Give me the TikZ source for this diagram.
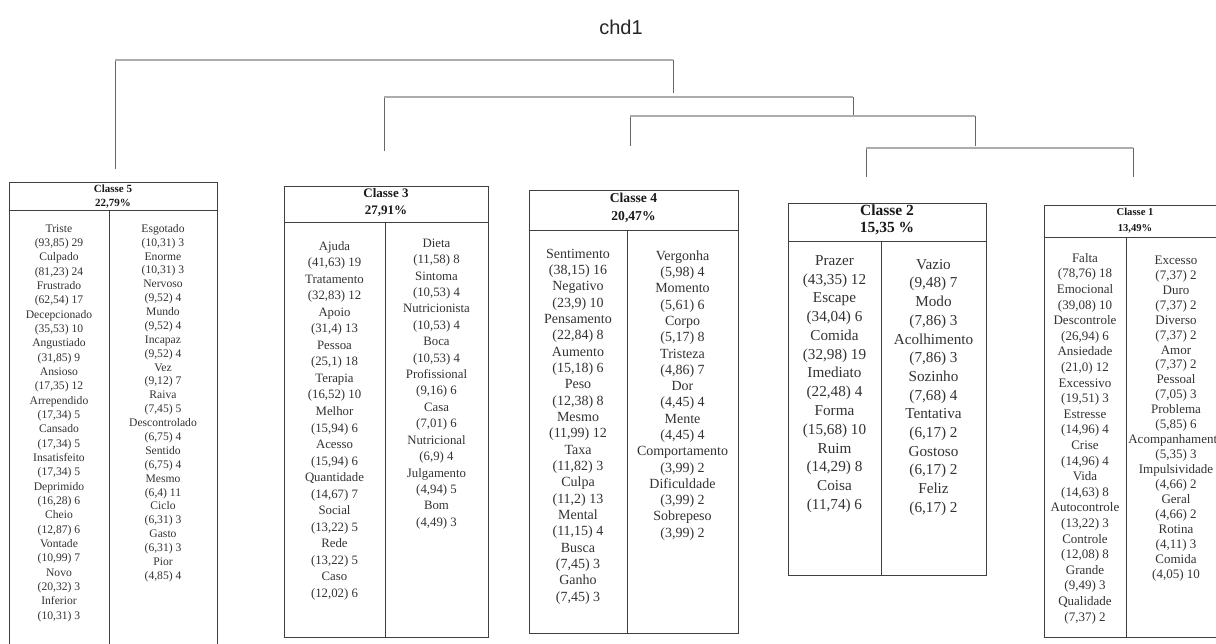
\documentclass[tikz,border=0pt]{standalone}
\usepackage{fontspec}
\setmainfont{Liberation Serif}
\newfontfamily\arialf{Liberation Sans}
\newcommand{\wordcol}[6]{%
  \foreach \w [count=\i from 0] in {#6} {
    \node[#5] (#1-\i) at (#2, {#3+\i*#4}) {\w};
  }%
}
\tikzset{
  wd/.style={inner sep=0pt, text height=.68em, text depth=.22em, text=black!80},
  hd/.style={inner sep=0pt, text height=.68em, text depth=.22em, text=black!90},
  f5/.style={wd, font=\fontsize{11.6}{14}\selectfont},
  f3/.style={wd, font=\fontsize{12.8}{15}\selectfont},
  f4/.style={wd, font=\fontsize{14}{16}\selectfont},
  f2/.style={wd, font=\fontsize{15.2}{18}\selectfont},
  f1/.style={wd, font=\fontsize{13}{15}\selectfont},
  boxline/.style={draw=black!75, line width=0.9pt},
  bar/.style={draw=gray!65, line width=2pt},
  drop/.style={draw=black!60, line width=0.7pt},
}
\begin{document}
\begin{tikzpicture}[x=1pt,y=-1pt]
\useasboundingbox (0,0) rectangle (1216,643);
\clip (0,0) rectangle (1216,643);
\fill[white] (0,0) rectangle (1216,643);

% title
\node[font=\arialf\fontsize{20}{24}\selectfont, text=black!85, inner sep=0pt] (title) at (621,27) {chd1};

% dendrogram
\coordinate (a1) at (115,60);  \coordinate (a2) at (673,60);
\coordinate (a1e) at (115,169); \coordinate (a2e) at (673,93);
\coordinate (b1) at (384,97);  \coordinate (b2) at (853,97);
\coordinate (b1e) at (384,151); \coordinate (b2e) at (853,116);
\coordinate (c1) at (630,116); \coordinate (c2) at (975,116);
\coordinate (c1e) at (630,146); \coordinate (c2e) at (975,146);
\coordinate (d1) at (866,148); \coordinate (d2) at (1133,148);
\coordinate (d1e) at (866,177); \coordinate (d2e) at (1133,177);
\draw[drop] (a1) -- (a1e); \draw[drop] (a2) -- (a2e);
\draw[drop] (b1) -- (b1e); \draw[drop] (b2) -- (b2e);
\draw[drop] (c1) -- (c1e); \draw[drop] (c2) -- (c2e);
\draw[drop] (d1) -- (d1e); \draw[drop] (d2) -- (d2e);
\draw[bar] (a1) -- (a2);
\draw[bar] (b1) -- (b2);
\draw[bar] (c1) -- (c2);
\draw[bar] (d1) -- (d2);

% ---------- Classe 5
\draw[boxline] (9,182) rectangle (217,660);
\draw[boxline] (9,210) -- (217,210);
\draw[boxline] (109,210) -- (109,660);
\node[hd, font=\bfseries\fontsize{11}{13}\selectfont] (h5a) at (113,190) {Classe 5};
\node[hd, font=\bfseries\fontsize{11}{13}\selectfont] (h5b) at (113,204) {22,79\%};
\wordcol{c5l}{59}{230}{14.33}{f5}{{Triste},{(93,85) 29},{Culpado},{(81,23) 24},{Frustrado},{(62,54) 17},{Decepcionado},{(35,53) 10},{Angustiado},{(31,85) 9},{Ansioso},{(17,35) 12},{Arrependido},{(17,34) 5},{Cansado},{(17,34) 5},{Insatisfeito},{(17,34) 5},{Deprimido},{(16,28) 6},{Cheio},{(12,87) 6},{Vontade},{(10,99) 7},{Novo},{(20,32) 3},{Inferior},{(10,31) 3}}
\wordcol{c5r}{163}{230}{13.88}{f5}{{Esgotado},{(10,31) 3},{Enorme},{(10,31) 3},{Nervoso},{(9,52) 4},{Mundo},{(9,52) 4},{Incapaz},{(9,52) 4},{Vez},{(9,12) 7},{Raiva},{(7,45) 5},{Descontrolado},{(6,75) 4},{Sentido},{(6,75) 4},{Mesmo},{(6,4) 11},{Ciclo},{(6,31) 3},{Gasto},{(6,31) 3},{Pior},{(4,85) 4}}

% ---------- Classe 3
\draw[boxline] (284,186) rectangle (488,637);
\draw[boxline] (284,222) -- (488,222);
\draw[boxline] (385,222) -- (385,637);
\node[hd, font=\bfseries\fontsize{13}{15}\selectfont] (h3a) at (386,195) {Classe 3};
\node[hd, font=\bfseries\fontsize{13}{15}\selectfont] (h3b) at (386,212) {27,91\%};
\wordcol{c3l}{334.5}{248}{16.52}{f3}{{Ajuda},{(41,63) 19},{Tratamento},{(32,83) 12},{Apoio},{(31,4) 13},{Pessoa},{(25,1) 18},{Terapia},{(16,52) 10},{Melhor},{(15,94) 6},{Acesso},{(15,94) 6},{Quantidade},{(14,67) 7},{Social},{(13,22) 5},{Rede},{(13,22) 5},{Caso},{(12,02) 6}}
\wordcol{c3r}{436.5}{245}{16.41}{f3}{{Dieta},{(11,58) 8},{Sintoma},{(10,53) 4},{Nutricionista},{(10,53) 4},{Boca},{(10,53) 4},{Profissional},{(9,16) 6},{Casa},{(7,01) 6},{Nutricional},{(6,9) 4},{Julgamento},{(4,94) 5},{Bom},{(4,49) 3}}

% ---------- Classe 4
\draw[boxline] (529,190) rectangle (738,633);
\draw[boxline] (529,230) -- (738,230);
\draw[boxline] (627,230) -- (627,633);
\node[hd, font=\bfseries\fontsize{13.6}{16}\selectfont] (h4a) at (633.5,200) {Classe 4};
\node[hd, font=\bfseries\fontsize{13.6}{16}\selectfont] (h4b) at (633.5,218) {20,47\%};
\wordcol{c4l}{578}{256}{16.33}{f4}{{Sentimento},{(38,15) 16},{Negativo},{(23,9) 10},{Pensamento},{(22,84) 8},{Aumento},{(15,18) 6},{Peso},{(12,38) 8},{Mesmo},{(11,99) 12},{Taxa},{(11,82) 3},{Culpa},{(11,2) 13},{Mental},{(11,15) 4},{Busca},{(7,45) 3},{Ganho},{(7,45) 3}}
\wordcol{c4r}{682.5}{258}{16.29}{f4}{{Vergonha},{(5,98) 4},{Momento},{(5,61) 6},{Corpo},{(5,17) 8},{Tristeza},{(4,86) 7},{Dor},{(4,45) 4},{Mente},{(4,45) 4},{Comportamento},{(3,99) 2},{Dificuldade},{(3,99) 2},{Sobrepeso},{(3,99) 2}}

% ---------- Classe 2
\draw[boxline] (788,203) rectangle (986,575);
\draw[boxline] (788,241) -- (986,241);
\draw[boxline] (881,241) -- (881,575);
\node[hd, font=\bfseries\fontsize{15.5}{18}\selectfont] (h2a) at (887,213) {Classe 2};
\node[hd, font=\bfseries\fontsize{15.5}{18}\selectfont] (h2b) at (887,230) {15,35 \%};
\wordcol{c2l}{834.5}{263}{18.77}{f2}{{Prazer},{(43,35) 12},{Escape},{(34,04) 6},{Comida},{(32,98) 19},{Imediato},{(22,48) 4},{Forma},{(15,68) 10},{Ruim},{(14,29) 8},{Coisa},{(11,74) 6}}
\wordcol{c2r}{933.5}{267}{18.69}{f2}{{Vazio},{(9,48) 7},{Modo},{(7,86) 3},{Acolhimento},{(7,86) 3},{Sozinho},{(7,68) 4},{Tentativa},{(6,17) 2},{Gostoso},{(6,17) 2},{Feliz},{(6,17) 2}}

% ---------- Classe 1
\draw[boxline] (1044,205) rectangle (1226,637);
\draw[boxline] (1044,237) -- (1226,237);
\draw[boxline] (1126,237) -- (1126,637);
\node[hd, font=\bfseries\fontsize{10.6}{13}\selectfont] (h1a) at (1135,213) {Classe 1};
\node[hd, font=\bfseries\fontsize{10.6}{13}\selectfont] (h1b) at (1135,229) {13,49\%};
\wordcol{c1l}{1085}{260}{15.6}{f1}{{Falta},{(78,76) 18},{Emocional},{(39,08) 10},{Descontrole},{(26,94) 6},{Ansiedade},{(21,0) 12},{Excessivo},{(19,51) 3},{Estresse},{(14,96) 4},{Crise},{(14,96) 4},{Vida},{(14,63) 8},{Autocontrole},{(13,22) 3},{Controle},{(12,08) 8},{Grande},{(9,49) 3},{Qualidade},{(7,37) 2}}
\wordcol{c1r}{1176}{262}{14.95}{f1}{{Excesso},{(7,37) 2},{Duro},{(7,37) 2},{Diverso},{(7,37) 2},{Amor},{(7,37) 2},{Pessoal},{(7,05) 3},{Problema},{(5,85) 6},{Acompanhamento},{(5,35) 3},{Impulsividade},{(4,66) 2},{Geral},{(4,66) 2},{Rotina},{(4,11) 3},{Comida},{(4,05) 10}}
\end{tikzpicture}
\end{document}
